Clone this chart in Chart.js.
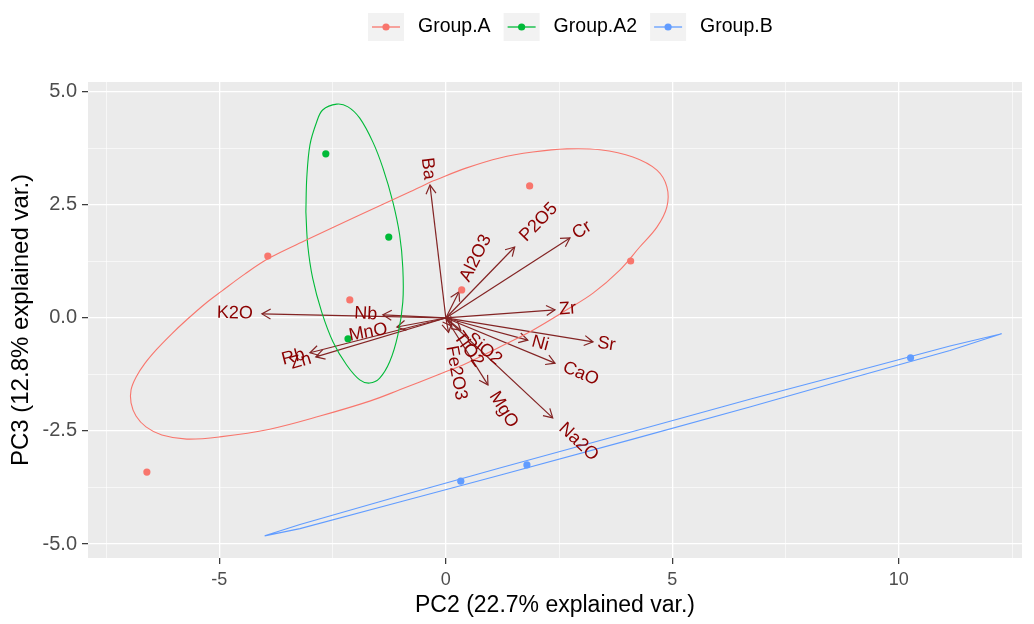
<!DOCTYPE html>
<html>
<head>
<meta charset="utf-8">
<script src="https://cdn.jsdelivr.net/npm/chart.js@4.4.1/dist/chart.umd.min.js"></script>
<style>
  html, body { margin: 0; padding: 0; background: #fff; }
  #wrap { width: 1034px; height: 624px; }
</style>
</head>
<body>
<div id="wrap"><canvas id="pca" width="1034" height="624"></canvas></div>
<script>
// sample scores on PC2 / PC3, per group
const groupNames = ['Group.A', 'Group.A2', 'Group.B'];
const groupA_pc2 = [-3.93, -2.12, 0.35, 1.85, 4.08, -6.60];
const groupA_pc3 = [1.37, 0.40, 0.62, 2.92, 1.26, -3.41];
const groupA2_pc2 = [-2.65, -1.26, -2.16];
const groupA2_pc3 = [3.63, 1.79, -0.46];
const groupB_pc2 = [0.33, 1.79, 10.26];
const groupB_pc3 = [-3.61, -3.25, -0.88];

// ellipse outlines
const ellA_pc2 = [-0.29, 0.46, 1.19, 1.92, 2.67, 3.40, 4.13, 4.66, 4.88, 4.88, 4.66, 4.28, 3.84, 3.25, 2.67, 1.92, 1.19, 0.46, -0.13, -1.02, -1.68, -2.78, -3.89, -4.99, -5.72, -6.27, -6.62, -6.84, -6.95, -6.95, -6.84, -6.64, -6.38, -6.05, -5.72, -5.32, -4.94, -4.44, -3.89, -3.07, -2.01, -0.79, -0.29];
const ellA_pc3 = [3.03, 3.32, 3.54, 3.67, 3.74, 3.72, 3.56, 3.27, 2.90, 2.46, 2.01, 1.57, 1.06, 0.55, 0.18, -0.27, -0.64, -1.00, -1.24, -1.59, -1.84, -2.17, -2.46, -2.63, -2.68, -2.59, -2.41, -2.17, -1.88, -1.59, -1.31, -1.00, -0.69, -0.35, -0.04, 0.31, 0.60, 0.97, 1.33, 1.73, 2.23, 2.79, 3.03];
const ellA2_pc2 = [-3.09, -3.05, -2.94, -2.74, -2.49, -2.19, -1.90, -1.68, -1.46, -1.24, -1.06, -0.95, -0.95, -1.02, -1.17, -1.39, -1.61, -1.90, -2.16, -2.41, -2.72, -2.85, -3.00, -3.07, -3.09];
const ellA2_pc3 = [2.35, 1.62, 0.88, 0.13, -0.53, -1.04, -1.37, -1.44, -1.33, -0.97, -0.38, 0.35, 1.11, 1.84, 2.57, 3.32, 3.89, 4.42, 4.67, 4.73, 4.60, 4.34, 3.83, 3.10, 2.35];
const ellB_pc2 = [-4.00, -3.22, -1.02, 1.19, 4.13, 6.71, 8.92, 11.13, 12.27, 11.13, 8.92, 6.71, 4.13, 1.19, -1.02, -3.22, -4.00];
const ellB_pc3 = [-4.82, -4.57, -3.94, -3.32, -2.51, -1.80, -1.21, -0.62, -0.35, -0.72, -1.34, -1.97, -2.68, -3.48, -4.07, -4.66, -4.82];

// variable loadings
const varNames = ['Ba', 'K2O', 'Nb', 'MnO', 'Rb', 'Zn', 'Al2O3', 'P2O5', 'Cr', 'Zr', 'Sr', 'Ni', 'CaO', 'Na2O', 'MgO', 'Fe2O3', 'TiO2', 'SiO2'];
const varPC2 = [-0.35, -4.06, -1.39, -1.08, -3.00, -2.87, 0.29, 1.52, 2.74, 2.41, 3.25, 1.81, 2.41, 2.36, 0.93, 0.06, 0.13, 0.33];
const varPC3 = [2.94, 0.09, 0.07, -0.20, -0.77, -0.86, 0.58, 1.57, 1.77, 0.18, -0.53, -0.49, -1.00, -2.21, -1.48, -0.32, -0.18, -0.27];

const xTicks = [-7.5, -5, -2.5, 0, 2.5, 5, 7.5, 10, 12.5];
const xTickLabels = ['', '-5', '', '0', '', '5', '', '10', ''];
const yTicks = [-5, -3.75, -2.5, -1.25, 0, 1.25, 2.5, 3.75, 5];
const yTickLabels = ['-5.0', '', '-2.5', '', '0.0', '', '2.5', '', '5.0'];

const colors = ['#F8766D', '#00BA38', '#619CFF'];
const arrowColor = '#832424';
const labelColor = '#8B0000';
const FONT = '"Liberation Sans", Arial, sans-serif';

const pts = (xs, ys) => xs.map((x, i) => ({ x, y: ys[i] }));

const groupPts = [pts(groupA_pc2, groupA_pc3), pts(groupA2_pc2, groupA2_pc3), pts(groupB_pc2, groupB_pc3)];
const ellPts = [pts(ellA_pc2, ellA_pc3), pts(ellA2_pc2, ellA2_pc3), pts(ellB_pc2, ellB_pc3)];

const datasets = [];
varNames.forEach((name, i) => {
  datasets.push({
    label: name, arrowName: name,
    data: [{ x: 0, y: 0 }, { x: varPC2[i], y: varPC3[i] }],
    showLine: true, borderColor: arrowColor, borderWidth: 1.2,
    pointRadius: 0, order: 4,
  });
});
groupNames.forEach((name, i) => {
  datasets.push({
    label: name, data: groupPts[i],
    backgroundColor: colors[i], borderWidth: 0,
    pointRadius: 3.6, order: 2,
  });
});
groupNames.forEach((name, i) => {
  datasets.push({
    label: name + ' ellipse', data: ellPts[i],
    showLine: true, borderColor: colors[i], borderWidth: 1.1,
    pointRadius: 0, tension: i === 2 ? 0 : 0.35, order: 1,
  });
});

const panelBg = {
  id: 'panelBg',
  beforeDraw(chart) {
    const { ctx, chartArea: a } = chart;
    ctx.save();
    ctx.fillStyle = '#EBEBEB';
    ctx.fillRect(a.left, a.top, a.right - a.left, a.bottom - a.top);
    ctx.restore();
  },
};

const arrows = {
  id: 'arrows',
  afterDatasetDraw(chart, args) {
    const ds = chart.data.datasets[args.index];
    if (!ds.arrowName) return;
    const p0 = args.meta.data[0], p1 = args.meta.data[1];
    const ang = Math.atan2(p1.y - p0.y, p1.x - p0.x);
    const len = 10, spread = Math.PI / 6;
    const ctx = chart.ctx;
    ctx.save();
    ctx.strokeStyle = arrowColor;
    ctx.lineWidth = 1.2;
    ctx.beginPath();
    ctx.moveTo(p1.x - len * Math.cos(ang - spread), p1.y - len * Math.sin(ang - spread));
    ctx.lineTo(p1.x, p1.y);
    ctx.lineTo(p1.x - len * Math.cos(ang + spread), p1.y - len * Math.sin(ang + spread));
    ctx.stroke();
    ctx.restore();
  },
  afterDatasetsDraw(chart) {
    const ctx = chart.ctx;
    ctx.save();
    ctx.fillStyle = labelColor;
    ctx.font = '18px ' + FONT;
    ctx.textBaseline = 'middle';
    chart.data.datasets.forEach((ds, i) => {
      if (!ds.arrowName) return;
      const meta = chart.getDatasetMeta(i);
      const p0 = meta.data[0], p1 = meta.data[1];
      const dx = p1.x - p0.x, dy = p1.y - p0.y;
      const theta = Math.atan(dy / dx);
      const w = ctx.measureText(ds.arrowName).width;
      ctx.save();
      ctx.translate(p1.x, p1.y);
      ctx.rotate(theta);
      if (dx > 0) {
        ctx.textAlign = 'left';
        ctx.fillText(ds.arrowName, 0.25 * w, 0);
      } else {
        ctx.textAlign = 'right';
        ctx.fillText(ds.arrowName, -0.25 * w, 0);
      }
      ctx.restore();
    });
    ctx.restore();
  },
};

const topLegend = {
  id: 'topLegend',
  afterDraw(chart) {
    const ctx = chart.ctx;
    ctx.save();
    ctx.font = '19.5px ' + FONT;
    ctx.textBaseline = 'middle';
    let x = 368;
    const cy = 27;
    groupNames.forEach((name, i) => {
      ctx.fillStyle = '#F2F2F2';
      ctx.fillRect(x, cy - 14, 36, 28);
      ctx.strokeStyle = colors[i];
      ctx.lineWidth = 1.3;
      ctx.beginPath();
      ctx.moveTo(x + 4, cy);
      ctx.lineTo(x + 32, cy);
      ctx.stroke();
      ctx.fillStyle = colors[i];
      ctx.beginPath();
      ctx.arc(x + 18, cy, 3.6, 0, Math.PI * 2);
      ctx.fill();
      ctx.fillStyle = '#000';
      ctx.textAlign = 'left';
      ctx.fillText(name, x + 50, cy);
      x += 50 + ctx.measureText(name).width + 13;
    });
    ctx.restore();
  },
};

new Chart(document.getElementById('pca'), {
  type: 'scatter',
  data: { datasets },
  options: {
    responsive: false,
    animation: false,
    layout: { padding: { top: 82, right: 12, left: 0, bottom: 0 } },
    plugins: { legend: { display: false }, tooltip: { enabled: false } },
    scales: {
      x: {
        type: 'linear', min: -7.9, max: 12.72,
        afterBuildTicks: (s) => { s.ticks = xTicks.map((v) => ({ value: v })); },
        afterFit: (s) => { s.height = 66; },
        border: { display: false },
        grid: {
          color: '#fff',
          lineWidth: (c) => (xTickLabels[c.index] ? 1.3 : 0.6),
          tickLength: 6,
          tickWidth: 1.2,
          tickColor: (c) => (xTickLabels[c.index] ? '#333' : 'rgba(0,0,0,0)'),
        },
        ticks: {
          autoSkip: false, maxRotation: 0, padding: 5, color: '#4D4D4D',
          font: { family: FONT, size: 18 },
          callback: (v, i) => xTickLabels[i],
        },
        title: {
          display: true, text: 'PC2 (22.7% explained var.)', color: '#000',
          font: { family: FONT, size: 23 }, padding: { top: 0, bottom: 5 },
        },
      },
      y: {
        type: 'linear', min: -5.31, max: 5.22,
        afterBuildTicks: (s) => { s.ticks = yTicks.map((v) => ({ value: v })); },
        afterFit: (s) => { s.width = 88; },
        border: { display: false },
        grid: {
          color: '#fff',
          lineWidth: (c) => (yTickLabels[c.index] ? 1.3 : 0.6),
          tickLength: 6,
          tickWidth: 1.2,
          tickColor: (c) => (yTickLabels[c.index] ? '#333' : 'rgba(0,0,0,0)'),
        },
        ticks: {
          autoSkip: false, padding: 5, color: '#4D4D4D',
          font: { family: FONT, size: 20 },
          callback: (v, i) => yTickLabels[i],
        },
        title: {
          display: true, text: 'PC3 (12.8% explained var.)', color: '#000',
          font: { family: FONT, size: 24 }, padding: { top: 7, bottom: 0 },
        },
      },
    },
  },
  plugins: [panelBg, arrows, topLegend],
});
</script>
</body>
</html>
